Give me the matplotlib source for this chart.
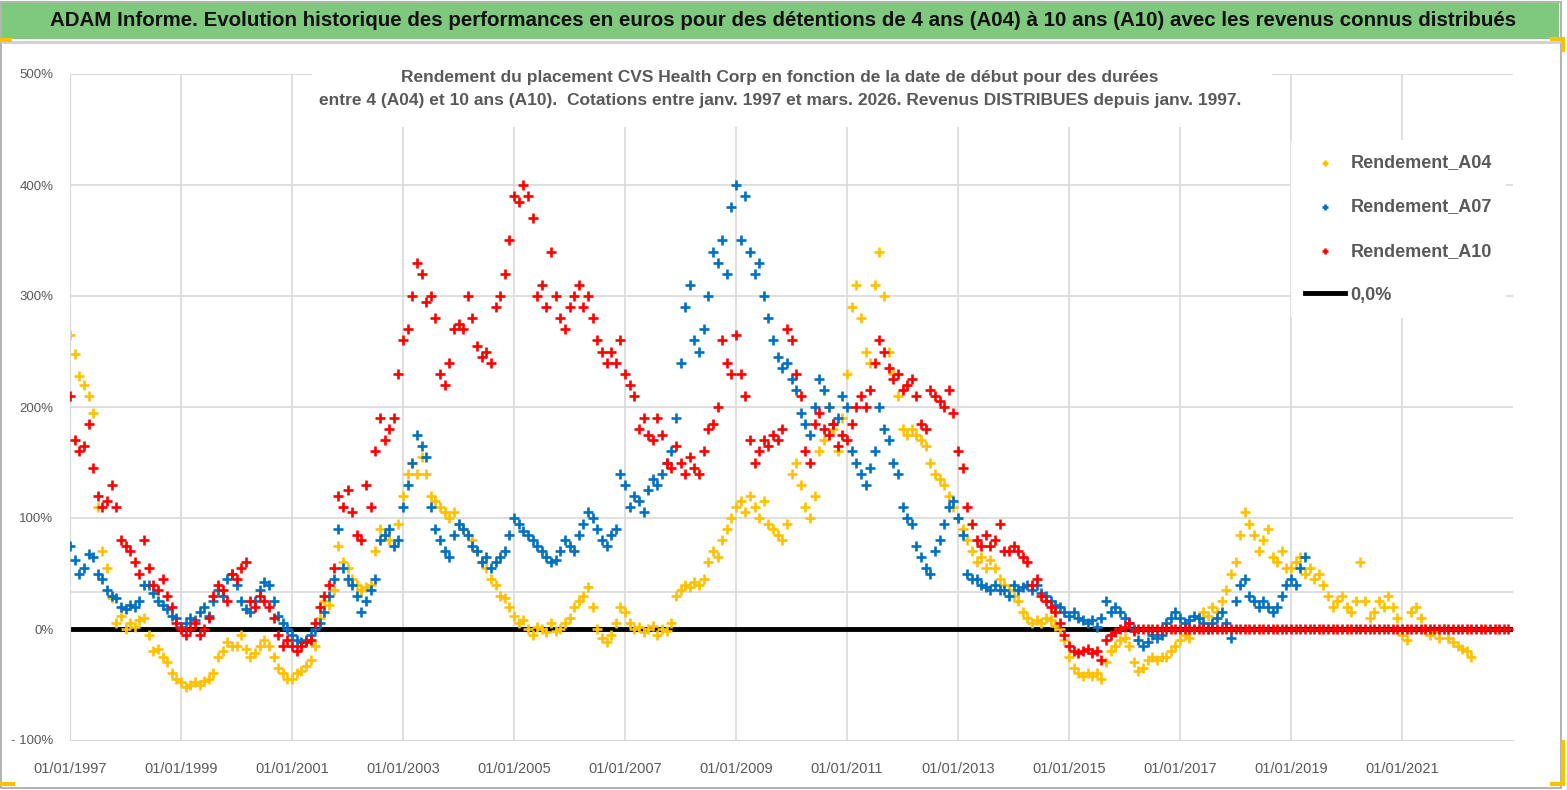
import matplotlib
matplotlib.use("Agg")
import matplotlib.pyplot as plt
import numpy as np
from matplotlib.patches import Rectangle

# ---------------- data (monthly readings, %, starting Jan 1997) ----------------
start_year = 1997
a04 = [
    265, 248, 228, 220, 210, 195, 110, 70, 55, 28, 5, 12,          # 1997
    0, 5, 2, 8, 10, -5, -20, -18, -25, -30, -40, -45,              # 1998
    -48, -52, -50, -48, -50, -47, -45, -40, -25, -20, -12, -15,    # 1999
    -15, -5, -18, -25, -22, -15, -10, -15, -25, -35, -40, -45,     # 2000
    -45, -40, -38, -33, -28, -15, 10, 25, 22, 35, 75, 60,          # 2001
    55, 45, 40, 35, 38, 40, 70, 90, 85, 80, 75, 95,                # 2002
    120, 140, 150, 140, 155, 140, 120, 115, 110, 105, 100, 105,    # 2003
    95, 90, 85, 80, 70, 60, 55, 45, 40, 30, 28, 20,                # 2004
    12, 5, 8, 0, -5, 2, 0, -3, 5, -2, 0, 5,                        # 2005
    10, 20, 25, 30, 38, 20, 0, -8, -12, -5, 5, 20,                 # 2006
    15, 5, 0, 2, -3, 0, 3, -5, 0, -2, 5, 30,                       # 2007
    35, 40, 38, 42, 40, 45, 60, 70, 65, 80, 90, 100,               # 2008
    110, 115, 105, 120, 110, 100, 115, 95, 90, 85, 80, 95,         # 2009
    140, 150, 130, 110, 100, 120, 160, 170, 200, 180, 160, 190,    # 2010
    230, 290, 310, 280, 250, 240, 310, 340, 300, 250, 230, 210,    # 2011
    180, 175, 180, 175, 170, 165, 150, 140, 135, 130, 120, 110,    # 2012
    100, 90, 80, 70, 60, 65, 55, 62, 55, 45, 40, 35,               # 2013
    30, 25, 15, 10, 5, 8, 5, 10, 8, 3, 0, -10,                     # 2014
    -25, -35, -40, -42, -40, -42, -40, -45, -30, -20, -15, -10,    # 2015
    -8, -15, -30, -38, -35, -28, -25, -28, -25, -25, -20, -15,     # 2016
    -10, -5, -8, 0, 10, 15, 12, 20, 15, 25, 35, 50,                # 2017
    60, 85, 105, 95, 85, 70, 80, 90, 65, 60, 70, 55,               # 2018
    55, 60, 65, 50, 55, 45, 50, 40, 30, 20, 25, 30,                # 2019
    20, 15, 25, 60, 25, 10, 15, 25, 20, 30, 20, 10,                # 2020
    -5, -10, 15, 20, 10, 0, -5, -3, -8, 0, -8, -12,                # 2021
    -15, -18, -20, -25,                                            # 2022
]
a07 = [
    75, 62, 50, 55, 68, 65, 50, 45, 35, 30, 28, 20,                # 1997
    18, 22, 20, 25, 40, 40, 32, 25, 22, 18, 12, 10,                # 1998
    2, 5, 10, 8, 15, 20, 12, 25, 35, 30, 45, 50,                   # 1999
    40, 25, 18, 15, 25, 35, 42, 40, 25, 12, 5, 0,                  # 2000
    -5, -10, -12, -10, -5, 0, 5, 15, 30, 45, 90, 55,               # 2001
    45, 40, 30, 15, 25, 35, 45, 80, 85, 90, 75, 80,                # 2002
    110, 130, 150, 175, 165, 155, 110, 90, 80, 70, 65, 85,         # 2003
    95, 90, 85, 75, 70, 60, 65, 55, 60, 65, 70, 85,                # 2004
    100, 95, 88, 85, 80, 75, 70, 65, 60, 62, 70, 80,               # 2005
    75, 70, 85, 95, 105, 100, 90, 80, 75, 85, 90, 140,             # 2006
    130, 110, 120, 115, 105, 125, 135, 130, 140, 150, 160, 190,    # 2007
    240, 290, 310, 260, 250, 270, 300, 340, 330, 350, 320, 380,    # 2008
    400, 350, 390, 340, 320, 330, 300, 280, 260, 245, 235, 240,    # 2009
    225, 215, 195, 185, 175, 200, 225, 215, 200, 185, 190, 210,    # 2010
    200, 160, 150, 140, 130, 145, 160, 200, 180, 170, 150, 140,    # 2011
    110, 100, 95, 75, 65, 55, 50, 70, 80, 95, 110, 115,            # 2012
    100, 85, 50, 45, 45, 40, 38, 35, 40, 35, 35, 30,               # 2013
    40, 35, 38, 40, 35, 40, 32, 30, 25, 22, 20, 15,                # 2014
    12, 15, 10, 8, 5, 8, 2, 10, 25, 15, 20, 15,                    # 2015
    10, 5, 0, -10, -15, -12, -5, -8, -5, 5, 10, 15,                # 2016
    10, 5, 8, 12, 10, 5, 0, 5, 10, 15, 5, -8,                      # 2017
    25, 40, 45, 30, 25, 20, 25, 20, 15, 20, 30, 40,                # 2018
    45, 40, 55, 65,                                                # 2019
]
a10 = [
    210, 170, 160, 165, 185, 145, 120, 110, 115, 130, 110, 80,     # 1997
    75, 70, 60, 50, 80, 55, 40, 35, 45, 30, 20, 5,                 # 1998
    0, -5, 0, 5, -5, 0, 10, 30, 40, 35, 25, 50,                    # 1999
    45, 55, 60, 25, 20, 30, 25, 20, 10, -5, -15, -10,              # 2000
    -15, -20, -15, -12, -10, 5, 20, 30, 40, 55, 120, 110,          # 2001
    125, 105, 85, 80, 130, 110, 160, 190, 170, 180, 190, 230,      # 2002
    260, 270, 300, 330, 320, 295, 300, 280, 230, 220, 240, 270,    # 2003
    275, 270, 300, 280, 255, 245, 250, 240, 290, 300, 320, 350,    # 2004
    390, 385, 400, 390, 370, 300, 310, 290, 340, 300, 280, 270,    # 2005
    290, 300, 310, 290, 300, 280, 260, 250, 240, 250, 240, 260,    # 2006
    230, 220, 210, 180, 190, 175, 170, 190, 175, 150, 145, 165,    # 2007
    150, 140, 155, 145, 140, 160, 180, 185, 200, 260, 240, 230,    # 2008
    265, 230, 210, 170, 150, 160, 170, 165, 175, 170, 180, 270,    # 2009
    260, 230, 210, 160, 150, 185, 195, 180, 175, 185, 165, 175,    # 2010
    170, 185, 200, 210, 200, 215, 240, 260, 250, 235, 225, 230,    # 2011
    215, 220, 225, 210, 185, 180, 215, 210, 205, 200, 215, 195,    # 2012
    160, 145, 110, 95, 80, 75, 85, 75, 80, 95, 70, 70,             # 2013
    75, 70, 65, 60, 40, 45, 30, 25, 20, 15, 5, -5,                 # 2014
    -15, -20, -22, -20, -18, -22, -20, -28, -10, -5, -3, 0,        # 2015
    2, 5, -2, 0, 0, 0, 0, 0, 0, 0, 0, 0,                           # 2016
    0, 0, 0, 0, 0, 0, 0, 0, 0, 0, 0, 0,                            # 2017
    0, 0, 0, 0, 0, 0, 0, 0, 0, 0, 0, 0,                            # 2018
    0, 0, 0, 0, 0, 0, 0, 0, 0, 0, 0, 0,                            # 2019
    0, 0, 0, 0, 0, 0, 0, 0, 0, 0, 0, 0,                            # 2020
    0, 0, 0, 0, 0, 0, 0, 0, 0, 0, 0, 0,                            # 2021
    0, 0, 0, 0, 0, 0, 0, 0, 0, 0, 0, 0,                            # 2022
]
tick_years = [1997, 1999, 2001, 2003, 2005, 2007, 2009, 2011, 2013, 2015, 2017, 2019, 2021]
tick_labels = ["01/01/%d" % y for y in tick_years]
y_ticks = [-100, 0, 100, 200, 300, 400, 500]
y_labels = ["- 100%", "0%", "100%", "200%", "300%", "400%", "500%"]
series_names = ["Rendement_A04", "Rendement_A07", "Rendement_A10"]
series_colors = ["#FFC000", "#0070C0", "#FF0000"]
zero_name = "0,0%"

title = ("ADAM Informe. Evolution historique des performances en euros pour des détentions "
         "de 4 ans (A04) à 10 ans (A10) avec les revenus connus distribués")
subtitle = ("Rendement du placement CVS Health Corp en fonction de la date de début pour des durées\n"
            "entre 4 (A04) et 10 ans (A10).  Cotations entre janv. 1997 et mars. 2026. Revenus DISTRIBUES depuis janv. 1997.")

# ---------------- fonts ----------------
plt.rcParams['font.family'] = ['Liberation Sans', 'DejaVu Sans']

W, H = 1567, 790
fig = plt.figure(figsize=(W / 100, H / 100), dpi=100)
fig.patch.set_facecolor("white")

def fx(px):
    return px / W

def fy(py):
    return 1 - py / H

# frame and title band
fig.patches.append(Rectangle((fx(1), fy(788)), fx(1560), 786 / H, transform=fig.transFigure,
                             facecolor="none", edgecolor="#A6A6A6", lw=1.2, zorder=-5))
fig.patches.append(Rectangle((fx(2), fy(39)), fx(1557), 36 / H, transform=fig.transFigure,
                             facecolor="#7EC97E", edgecolor="none", zorder=-4))
fig.lines.append(plt.Line2D([fx(2), fx(1559)], [fy(42), fy(42)], transform=fig.transFigure,
                            color="#D0D0D0", lw=2, zorder=-4))
fig.text(fx(783), fy(21), title, ha="center", va="center", fontsize=14.8,
         fontweight="bold", color="#111111", zorder=3)
# Excel selection handles
for (x0, y0, w, h) in [(0, 38, 12, 4), (1550, 37, 14, 4), (1561, 37, 4, 15),
                       (1561, 740, 4, 46), (1550, 782, 15, 4), (0, 782, 15, 4)]:
    fig.patches.append(Rectangle((fx(x0), fy(y0 + h)), fx(w), h / H, transform=fig.transFigure,
                                 facecolor="#FFC000", edgecolor="none", zorder=-3))

# ---------------- axes ----------------
ax = fig.add_axes([fx(70), fy(740), fx(1513 - 70), (740 - 74) / H])
ax.set_zorder(1)
ax.patch.set_alpha(0)
ax.set_xlim(1997, 2023)
ax.set_ylim(-100, 500)
for s in ["top", "right"]:
    ax.spines[s].set_visible(False)
ax.spines["left"].set_color("#D9D9D9")
ax.spines["bottom"].set_color("#D9D9D9")
ax.set_xticks(tick_years)
ax.set_xticklabels(tick_labels)
ax.set_yticks(y_ticks)
ax.set_yticklabels(y_labels)
ax.tick_params(axis="both", length=0, colors="#595959")
ax.tick_params(axis="x", pad=16, labelsize=10.5)
ax.tick_params(axis="y", pad=12, labelsize=9.5)
for yv in [100, 200, 300, 400, 500, 100 / 3]:
    ax.axhline(yv, color="#D9D9D9", lw=1.2, zorder=0)
for xv in tick_years[1:]:
    ax.axvline(xv, color="#D9D9D9", lw=1.2, zorder=0)

# zero line
ax.plot([1997, 2023], [0, 0], color="black", lw=3.5, zorder=1, label=zero_name)

for name, vals, col, z in zip(series_names, [a04, a07, a10], series_colors, [2, 3, 4]):
    t = start_year + np.arange(len(vals)) / 12.0
    ax.scatter(t, vals, marker="+", s=62, linewidths=1.9, color=col, zorder=z, label=name)

# subtitle box
ax.add_patch(Rectangle((fx(312), fy(127)), fx(960), 70 / H, transform=fig.transFigure,
                       facecolor="white", edgecolor="none", zorder=5))
ax.text(fx(780), fy(89), subtitle, transform=fig.transFigure, ha="center", va="center",
        fontsize=12.5, fontweight="bold", color="#595959", linespacing=1.7, zorder=6)

# legend
handles, labels = ax.get_legend_handles_labels()
order = [1, 2, 3, 0]
leg = ax.legend([handles[i] for i in order], [labels[i] for i in order],
                loc="upper left", bbox_to_anchor=(fx(1282), fy(131)),
                bbox_transform=fig.transFigure,
                frameon=True, facecolor="white", edgecolor="none", framealpha=1,
                fontsize=13, labelspacing=1.5, handlelength=2.2, handletextpad=0.3,
                borderpad=0.8, markerscale=0.6)
for txt in leg.get_texts():
    txt.set_color("#595959")
    txt.set_fontweight("bold")
leg.set_zorder(7)

fig.savefig("out.png", dpi=100)
